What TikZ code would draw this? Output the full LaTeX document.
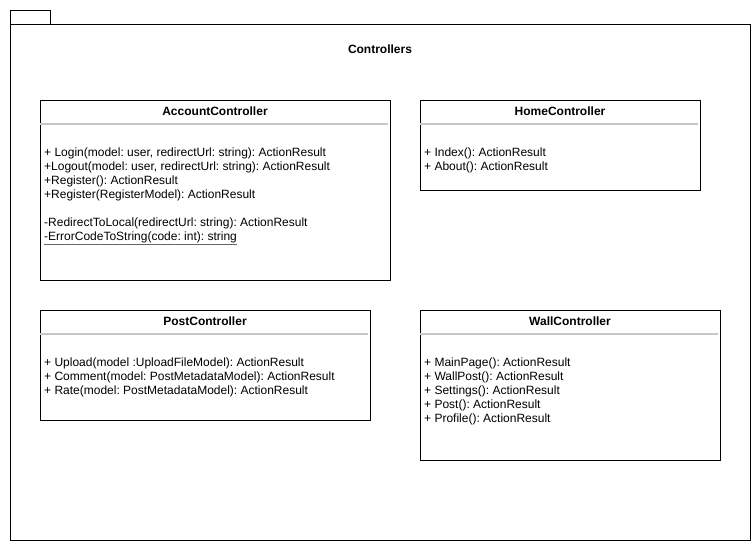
\documentclass[tikz,border=0pt]{standalone}
\usepackage{fontspec}
\setmainfont{Liberation Sans}
\frenchspacing
\usetikzlibrary{positioning}
\begin{document}
\begin{tikzpicture}[x=1pt,y=-1pt,
    classbox/.style={draw, line width=0.9pt, anchor=north west, inner sep=0pt},
    classname/.style={font=\fontsize{12}{14}\selectfont\bfseries},
    member/.style={anchor=west, inner sep=0pt, font=\fontsize{12}{14}\selectfont},
    sepline/.style={draw=black!22, line width=1.6pt}]
    \useasboundingbox (0,0) rectangle (752,550);
    % package
    \draw[line width=0.9pt] (10,10) rectangle (50,24); % tab
    \draw[line width=0.9pt] (10,24) rectangle (750,540);
    \node[classname] (pkg) at (380,49) {Controllers};
    % AccountController
    \node[classbox, minimum width=350pt, minimum height=180pt] (account) at (40,100) {};
    \node[classname] (accountname) at (215,111) {AccountController};
    \draw[sepline] (40,124) -- (388,124);
    \node[member] (login) at (44,153) {+ Login(model: user, redirectUrl: string): ActionResult};
    \node[member] (logout) at (44,167) {+Logout(model: user, redirectUrl: string): ActionResult};
    \node[member] (register) at (44,181) {+Register(): ActionResult};
    \node[member] (registerm) at (44,195) {+Register(RegisterModel): ActionResult};
    \node[member] (redirect) at (44,223) {-RedirectToLocal(redirectUrl: string): ActionResult};
    \node[member] (errorcode) at (44,237) {-ErrorCodeToString(code: int): string};
    \draw[black!60, line width=1.2pt] (errorcode.south west) ++(0,2) -- ([yshift=-2pt]errorcode.south east); % underline
    % HomeController
    \node[classbox, minimum width=280pt, minimum height=90pt] (home) at (420,100) {};
    \node[classname] (homename) at (560,111) {HomeController};
    \draw[sepline] (420,124) -- (698,124);
    \node[member] (index) at (424,153) {+ Index(): ActionResult};
    \node[member] (about) at (424,167) {+ About(): ActionResult};
    % PostController
    \node[classbox, minimum width=330pt, minimum height=110pt] (post) at (40,310) {};
    \node[classname] (postname) at (205,321) {PostController};
    \draw[sepline] (40,334) -- (368,334);
    \node[member] (upload) at (44,363) {+ Upload(model :UploadFileModel): ActionResult};
    \node[member] (comment) at (44,377) {+ Comment(model: PostMetadataModel): ActionResult};
    \node[member] (rate) at (44,391) {+ Rate(model: PostMetadataModel): ActionResult};
    % WallController
    \node[classbox, minimum width=300pt, minimum height=150pt] (wall) at (420,310) {};
    \node[classname] (wallname) at (570,321) {WallController};
    \draw[sepline] (420,334) -- (718,334);
    \node[member] (mainpage) at (424,363) {+ MainPage(): ActionResult};
    \node[member] (wallpost) at (424,377) {+ WallPost(): ActionResult};
    \node[member] (settings) at (424,391) {+ Settings(): ActionResult};
    \node[member] (postm) at (424,405) {+ Post(): ActionResult};
    \node[member] (profile) at (424,419) {+ Profile(): ActionResult};
\end{tikzpicture}
\end{document}
